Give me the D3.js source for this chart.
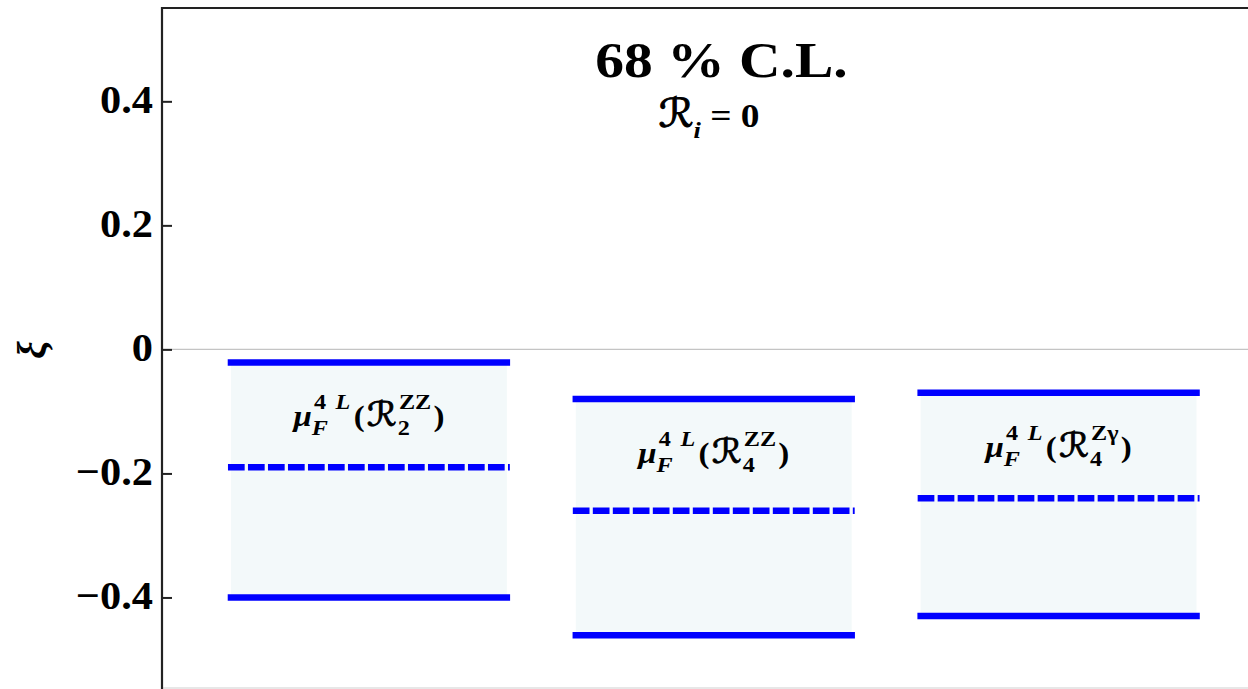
<!DOCTYPE html>
<html>
<head>
<meta charset="utf-8">
<script src="https://cdn.jsdelivr.net/npm/d3@7"></script>
<style>
  html, body { margin: 0; padding: 0; background: #fff; }
  svg { display: block; }
  text { font-family: "Liberation Serif", "DejaVu Serif", serif; }
</style>
</head>
<body>
<svg id="chart" width="1248" height="689"></svg>
<script>
// Interval positions (1, 2, 3) and the bounds of each 68 % C.L. band of ξ
const positions = [1, 2, 3];
const upperBound = [-0.021, -0.080, -0.070];
const centralValue = [-0.190, -0.260, -0.240];
const lowerBound = [-0.400, -0.461, -0.430];

// Observable labels: μ_F^{4 L}(ℛ_n^{XY})
const obsIndex = ["2", "4", "4"];
const obsChannel = ["ZZ", "ZZ", "Zγ"];

const yTicks = [-0.4, -0.2, 0, 0.2, 0.4];
const titleText = "68 % C.L.";

const svg = d3.select("#chart");
const W = 1248, H = 689;
const plotLeft = 162, plotTop = 8, plotBottom = 688;

const x = d3.scaleLinear().domain([0.4, 3.6]).range([plotLeft, 23.5 + 3.6 * 345]);
const y = d3.scaleLinear().domain([-0.546, 0.5505]).range([plotBottom, plotTop]);
const halfWidth = 0.4;

const blue = "#0000ff";
const scriptFont = "\"DejaVu Sans\", \"DejaVu Serif\", sans-serif";

// zero line
svg.append("line")
  .attr("x1", plotLeft).attr("x2", W)
  .attr("y1", y(0)).attr("y2", y(0))
  .attr("stroke", "#c4c4c4").attr("stroke-width", 1.2);

const bands = svg.append("g");
positions.forEach((p, i) => {
  const x0 = x(p - halfWidth), x1 = x(p + halfWidth);
  bands.append("rect")
    .attr("x", x0).attr("width", x1 - x0)
    .attr("y", y(upperBound[i])).attr("height", y(lowerBound[i]) - y(upperBound[i]))
    .attr("fill", "#f3f9fa");
  [upperBound[i], lowerBound[i]].forEach(v => {
    bands.append("line")
      .attr("x1", x0).attr("x2", x1)
      .attr("y1", y(v)).attr("y2", y(v))
      .attr("stroke", blue).attr("stroke-width", 6.5)
      .attr("stroke-linecap", "square");
  });
  bands.append("line")
    .attr("x1", x0 - 3).attr("x2", x1 + 3)
    .attr("y1", y(centralValue[i])).attr("y2", y(centralValue[i]))
    .attr("stroke", blue).attr("stroke-width", 6.5)
    .attr("stroke-dasharray", "16.7,3.3");
});

// One <text> built from tspans laid out left to right; a piece with
// stack:true starts at the same x as the previous one (sub/superscript pair).
// The text is widened horizontally by sx and centred on cx.
function richText(g, pieces, cx, baseline, sx) {
  const txt = g.append("text").attr("fill", "#000").attr("xml:space", "preserve");
  let cursor = 0, prevStart = 0, maxEnd = 0;
  pieces.forEach(pc => {
    const start = (pc.stack ? prevStart : cursor) + (pc.dx || 0);
    const t = txt.append("tspan")
      .attr("x", start)
      .attr("y", baseline + (pc.dy || 0))
      .attr("font-size", pc.size)
      .attr("font-style", pc.italic ? "italic" : "normal")
      .attr("font-weight", pc.bold ? "bold" : "normal")
      .text(pc.t);
    if (pc.family) t.style("font-family", pc.family);
    if (pc.thick) t.attr("stroke", "#000").attr("stroke-width", pc.thick);
    const end = start + t.node().getComputedTextLength();
    cursor = pc.stack ? Math.max(cursor, end) : end;
    prevStart = start;
    maxEnd = Math.max(maxEnd, cursor);
  });
  txt.attr("transform", `translate(${cx - maxEnd * sx / 2},0) scale(${sx},1)`);
  return txt;
}

const mainSize = 30, supSize = 22;
positions.forEach((p, i) => {
  richText(svg, [
    { t: "μ", size: mainSize, italic: true, bold: true },
    { t: "F", size: supSize, italic: true, bold: true, dy: 9, dx: 0 },
    { t: "4", size: supSize, bold: true, dy: -17, stack: true, dx: 2 },
    { t: "L", size: supSize, italic: true, bold: true, dy: -17, dx: 7 },
    { t: "(", size: mainSize, bold: true, dx: 3 },
    { t: "ℛ", size: 34, family: scriptFont, thick: 0.9, dx: 2 },
    { t: obsIndex[i], size: supSize, bold: true, dy: 9, dx: 1 },
    { t: obsChannel[i], size: supSize, bold: true, dy: -17, stack: true, dx: 1 },
    { t: ")", size: mainSize, bold: true, dx: 2 }
  ], x(p), y(upperBound[i]) + 64, 1.1);
});

// title
svg.append("text")
  .attr("transform", "translate(721.5,77) scale(1.15,1)")
  .attr("text-anchor", "middle")
  .attr("font-size", 50).attr("font-weight", "bold")
  .text(titleText);

richText(svg, [
  { t: "ℛ", size: 40, family: scriptFont, thick: 1 },
  { t: "i", size: 24, italic: true, bold: true, dy: 11, dx: 0 },
  { t: " = 0", size: 34, bold: true }
], 709, 127, 1.1);

// frame
svg.append("line").attr("x1", plotLeft).attr("x2", W).attr("y1", plotTop).attr("y2", plotTop)
  .attr("stroke", "#222").attr("stroke-width", 2.2);
svg.append("line").attr("x1", plotLeft).attr("x2", W).attr("y1", plotBottom).attr("y2", plotBottom)
  .attr("stroke", "#cfcfcf").attr("stroke-width", 1.2);

// y axis: ticks from the axis generator, labels widened slightly
const yAxis = d3.axisLeft(y)
  .tickValues(yTicks)
  .tickSize(0)
  .tickFormat(v => v === 0 ? "0" : d3.format(".1f")(v));
const ag = svg.append("g").attr("transform", `translate(${plotLeft},0)`).call(yAxis);
ag.select(".domain").remove();
ag.selectAll(".tick text")
  .attr("x", null).attr("dy", null)
  .attr("transform", "translate(-9,11) scale(1.06,1)")
  .attr("font-size", 40).attr("font-weight", "bold")
  .attr("fill", "#000")
  .style("font-family", "\"Liberation Serif\", serif");
ag.selectAll(".tick").append("line")
  .attr("x1", 0).attr("x2", 10)
  .attr("stroke", "#222").attr("stroke-width", 2);
svg.append("line").attr("x1", plotLeft).attr("x2", plotLeft).attr("y1", plotTop - 1).attr("y2", H)
  .attr("stroke", "#222").attr("stroke-width", 2.2);

// axis label ξ
svg.append("text")
  .attr("transform", "translate(45,350) rotate(-90)")
  .attr("text-anchor", "middle")
  .attr("font-size", 40).attr("font-style", "italic").attr("font-weight", "bold")
  .text("ξ");
</script>
</body>
</html>
